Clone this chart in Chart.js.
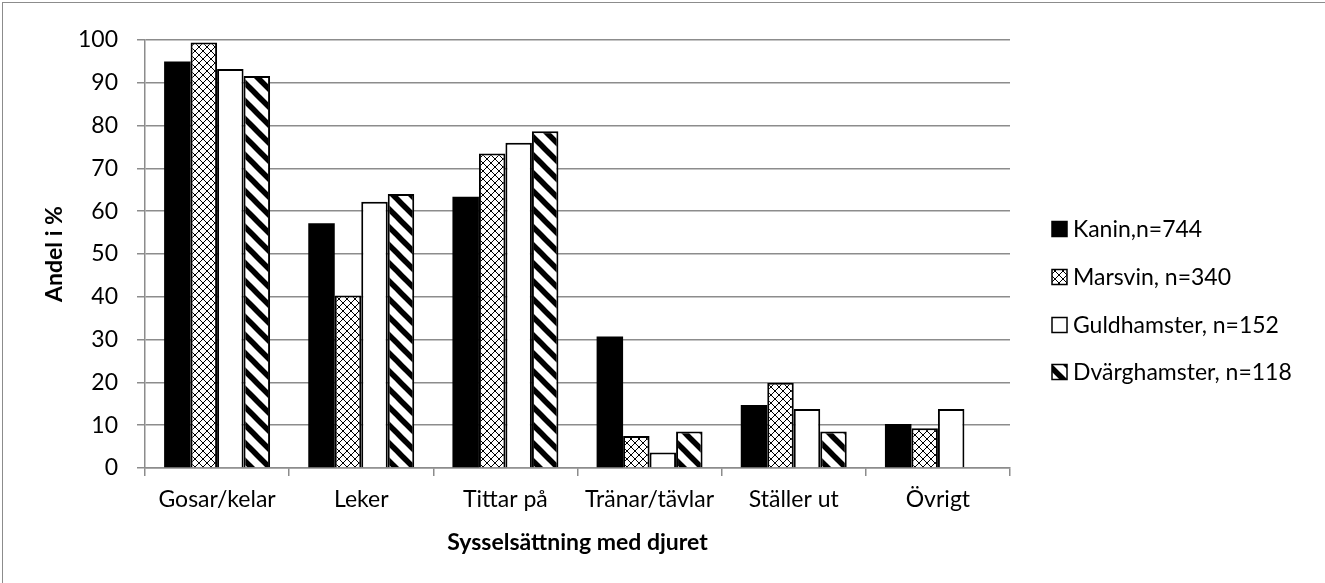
<!DOCTYPE html>
<html>
<head>
<meta charset="utf-8">
<script src="https://cdn.jsdelivr.net/npm/chart.js@4"></script>
<style>
  body { margin: 0; background: #fff; overflow: hidden; }
  #frame { position: absolute; left: 2px; top: 2px; width: 1400px; height: 700px; border: 1px solid #8c8c8c; }
  #wrap { position: absolute; left: 3px; top: 3px; width: 1322px; height: 580px; }
</style>
</head>
<body>
<div id="frame"></div>
<div id="wrap"><canvas id="chart"></canvas></div>
<script>
// categories and series
const categories = ["Gosar/kelar", "Leker", "Tittar på", "Tränar/tävlar", "Ställer ut", "Övrigt"];
const kanin = [95.0, 57.2, 63.4, 30.7, 14.7, 10.3];
const marsvin = [99.4, 40.3, 73.5, 7.5, 19.9, 9.3];
const guldhamster = [93.2, 62.2, 76.0, 3.6, 13.8, 13.8];
const dverghamster = [91.6, 64.0, 78.7, 8.5, 8.5, 0];
const seriesNames = ["Kanin,n=744", "Marsvin, n=340", "Guldhamster, n=152", "Dvärghamster, n=118"];
const yTicks = [0, 10, 20, 30, 40, 50, 60, 70, 80, 90, 100];

const FONT = "Lato, 'Open Sans', sans-serif";
const FS = 23;

// crosshatch tile (Marsvin)
function makeCross() {
    const s = 8;
    const c = document.createElement("canvas");
    c.width = s; c.height = s;
    const g = c.getContext("2d");
    g.fillStyle = "#fff";
    g.fillRect(0, 0, s, s);
    g.fillStyle = "#000";
    for (let i = 0; i < s; i++) {
        g.fillRect(i, i, 1, 1);
        g.fillRect(s - 1 - i, i, 1, 1);
    }
    return g.createPattern(c, "repeat");
}

// wide diagonal stripes (Dvärghamster)
function makeStripes() {
    const s = 18;
    const c = document.createElement("canvas");
    c.width = s; c.height = s;
    const g = c.getContext("2d");
    g.fillStyle = "#fff";
    g.fillRect(0, 0, s, s);
    g.strokeStyle = "#000";
    g.lineWidth = 5.5;
    for (let k = -1; k <= 1; k++) {
        g.beginPath();
        g.moveTo(k * s - s, -s);
        g.lineTo(k * s + 2 * s, 2 * s);
        g.stroke();
    }
    return g.createPattern(c, "repeat");
}

const crossFill = makeCross();
const stripeFill = makeStripes();

// legend drawn by hand so it sits where the original has it
const sideLegend = {
    id: "sideLegend",
    afterDraw(chart) {
        const g = chart.ctx;
        const boxX = 1049, textX = 1070, box = 15;
        const rows = [226, 274, 322, 369];
        g.save();
        g.font = FS + "px " + FONT;
        g.textBaseline = "middle";
        chart.data.datasets.forEach((ds, i) => {
            const y = rows[i];
            g.fillStyle = ds.backgroundColor;
            g.fillRect(boxX, y - box / 2, box, box);
            g.strokeStyle = "#000";
            g.lineWidth = 1.5;
            g.strokeRect(boxX, y - box / 2, box, box);
            g.fillStyle = "#000";
            g.fillText(ds.label, textX, y + 1);
        });
        g.restore();
    }
};

const ctx = document.getElementById("chart").getContext("2d");
new Chart(ctx, {
    type: "bar",
    data: {
        labels: categories,
        datasets: [
            { label: seriesNames[0], data: kanin, backgroundColor: "#000", borderColor: "#000", borderWidth: 0 },
            { label: seriesNames[1], data: marsvin, backgroundColor: crossFill, borderColor: "#000", borderWidth: 2 },
            { label: seriesNames[2], data: guldhamster, backgroundColor: "#fff", borderColor: "#000", borderWidth: 2 },
            { label: seriesNames[3], data: dverghamster, backgroundColor: stripeFill, borderColor: "#000", borderWidth: 2 }
        ]
    },
    plugins: [sideLegend],
    options: {
        responsive: true,
        maintainAspectRatio: false,
        animation: false,
        devicePixelRatio: 1,
        layout: { padding: { left: 0, right: 315, top: 37, bottom: 0 } },
        datasets: { bar: { categoryPercentage: 0.735, barPercentage: 1.0 } },
        plugins: {
            tooltip: { enabled: false },
            legend: { display: false }
        },
        scales: {
            x: {
                offset: true,
                afterFit: function(scale) { scale.height = 115; },
                grid: { display: true, drawOnChartArea: false, offset: true, color: "#8c8c8c", lineWidth: 1.5, tickLength: 8 },
                border: { color: "#8c8c8c", width: 1.5 },
                ticks: { font: { family: FONT, size: FS }, color: "#000", padding: 10 },
                title: { display: true, text: "Sysselsättning med djuret", font: { family: FONT, size: FS, weight: "bold" }, color: "#000", padding: { top: 0, bottom: 27 } }
            },
            y: {
                min: 0,
                max: 100,
                afterFit: function(scale) { scale.width = 142; },
                afterBuildTicks: function(axis) { axis.ticks = yTicks.map(v => ({ value: v })); },
                grid: { color: "#8c8c8c", lineWidth: 1.5, tickLength: 8 },
                border: { color: "#8c8c8c", width: 1.5 },
                ticks: { font: { family: FONT, size: FS }, color: "#000", padding: 19 },
                title: { display: true, text: "Andel i %", font: { family: FONT, size: FS, weight: "bold" }, color: "#000", padding: { top: 38, bottom: 0 } }
            }
        }
    }
});
</script>
</body>
</html>
